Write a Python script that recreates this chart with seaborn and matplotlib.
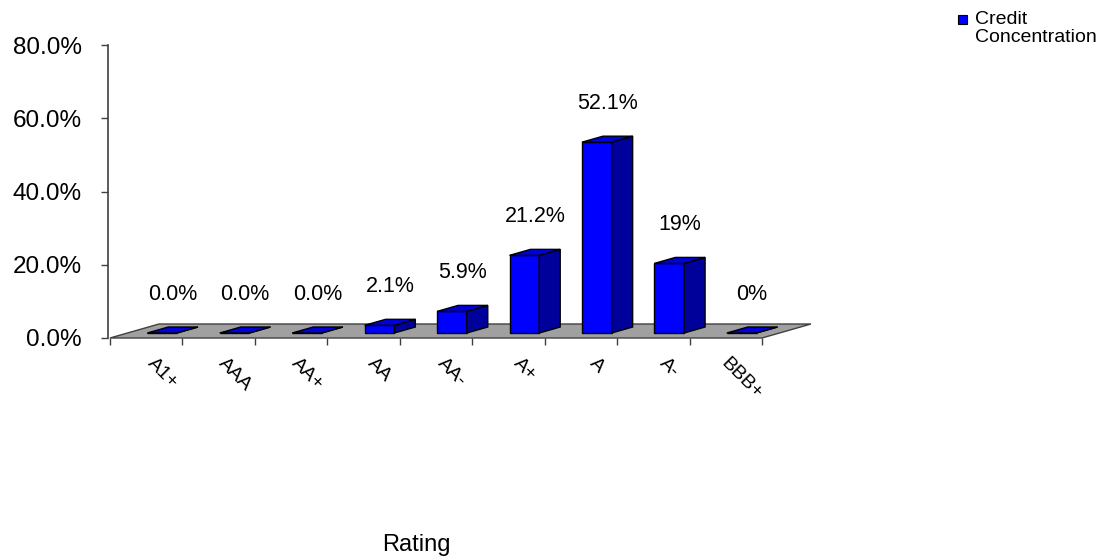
import pandas as pd
import seaborn as sns
import matplotlib.pyplot as plt
from matplotlib.patches import Polygon, Patch, Rectangle
from matplotlib.legend_handler import HandlerPatch
from matplotlib.ticker import FuncFormatter

# chart data
ratings = ['A1+', 'AAA', 'AA+', 'AA', 'AA-', 'A+', 'A', 'A-', 'BBB+']
concentration = [0.0, 0.0, 0.0, 2.1, 5.9, 21.2, 52.1, 19.0, 0.0]
value_labels = ['0.0%', '0.0%', '0.0%', '2.1%', '5.9%', '21.2%', '52.1%', '19%', '0%']
y_ticks = [0, 20, 40, 60, 80]

df = pd.DataFrame({'Rating': ratings, 'Concentration': concentration})

sns.set_theme(style='white')
plt.rcParams['font.family'] = ['Liberation Sans', 'DejaVu Sans']
plt.rcParams['text.color'] = 'black'

front_c = '#0000ff'
side_c = '#00009a'
top_c = '#0000d8'
floor_c = '#a0a0a0'
axis_c = '#404040'

W, H = 1104, 560
fig = plt.figure(figsize=(W / 100, H / 100), dpi=100)
ax = fig.add_axes([108 / W, 1 - 338 / H, (815 - 108) / W, (338 - 45) / H])

bar_w = 0.41
shift = 0.22   # bars sit toward the back of each category slot
sns.barplot(data=df, x='Rating', y='Concentration', order=ratings, color=front_c,
            width=bar_w, saturation=1, edgecolor='black', linewidth=1, ax=ax, zorder=3)

slot_px = 72.4
x_left = -0.5 - shift - 2 / slot_px
x_right = len(ratings) - 0.5 - shift + 53 / slot_px
ax.set_xlim(x_left, x_right)
ax.set_ylim(0, 80)

# pixel -> data unit helpers for the fake 3d depth
pos = ax.get_position()
ux = (x_right - x_left) / (pos.width * W)
uy = 80 / (pos.height * H)

lift = 5 * uy
bdx, bdy = 21 * ux, 6 * uy
fdx, fdy = 49 * ux, 14 * uy

# floor
b0 = -0.5 - shift
b1 = len(ratings) - 0.5 - shift
ax.add_patch(Polygon([(b0, 0), (b1, 0), (b1 + fdx, fdy), (b0 + fdx, fdy)],
                     closed=True, fc=floor_c, ec=axis_c, lw=1, zorder=1, clip_on=False))

# side and top faces of each bar
for p, val, lab in zip(ax.containers[0], concentration, value_labels):
    p.set_y(lift)
    x0 = p.get_x()
    x1 = x0 + p.get_width()
    y1 = lift + p.get_height()
    ax.add_patch(Polygon([(x1, lift), (x1 + bdx, lift + bdy), (x1 + bdx, y1 + bdy), (x1, y1)],
                         closed=True, fc=side_c, ec='black', lw=1, zorder=3))
    ax.add_patch(Polygon([(x0, y1), (x0 + bdx, y1 + bdy), (x1 + bdx, y1 + bdy), (x1, y1)],
                         closed=True, fc=top_c, ec='black', lw=1, zorder=3))
    ax.annotate(lab, ((x0 + x1 + bdx) / 2, y1), xytext=(0, 28), textcoords='offset points',
                ha='center', va='center', fontsize=15.5, color='black')

# axes styling
for s in ['top', 'right', 'bottom']:
    ax.spines[s].set_visible(False)
ax.spines['left'].set_color(axis_c)
ax.spines['left'].set_linewidth(1.2)

ax.set_yticks(y_ticks)
ax.yaxis.set_major_formatter(FuncFormatter(lambda v, _: f'{v:.1f}%'))
ax.tick_params(axis='y', left=True, direction='out', length=5, width=1, color=axis_c,
               pad=14, labelsize=17.5, labelcolor='black')

ax.set_xticks(range(len(ratings)))
ax.set_xticklabels(ratings, rotation=-45, ha='center', va='top')
ax.set_xticks([i - 0.5 - shift for i in range(len(ratings) + 1)], minor=True)
ax.tick_params(axis='x', which='major', bottom=True, length=0, pad=12, labelsize=14,
               labelcolor='black')
ax.tick_params(axis='x', which='minor', bottom=True, direction='out', length=5, width=1,
               color=axis_c)

ax.set_ylabel('')
ax.set_xlabel('Rating', fontsize=17, color='black')
ax.xaxis.set_label_coords((416 - 108) / 707, (338 - 545) / 293)
ax.xaxis.label.set_va('center')


def top_square(legend, orig_handle, xdescent, ydescent, width, height, fontsize):
    # small square aligned with the first text line
    return Rectangle((-xdescent, -ydescent + height - width), width, width)


handle = Patch(fc=front_c, ec='black', lw=0.8)
leg = ax.legend(handles=[handle], labels=['Credit\nConcentration'], loc='upper left',
                bbox_to_anchor=(958 / W, 1 - 11 / H), bbox_transform=fig.transFigure,
                frameon=False, fontsize=14, handlelength=0.45, handleheight=1.75,
                handletextpad=0.45, borderaxespad=0, borderpad=0,
                handler_map={Patch: HandlerPatch(patch_func=top_square)})
leg.get_texts()[0].set_linespacing(1.05)

fig.savefig('out.png', dpi=100)
